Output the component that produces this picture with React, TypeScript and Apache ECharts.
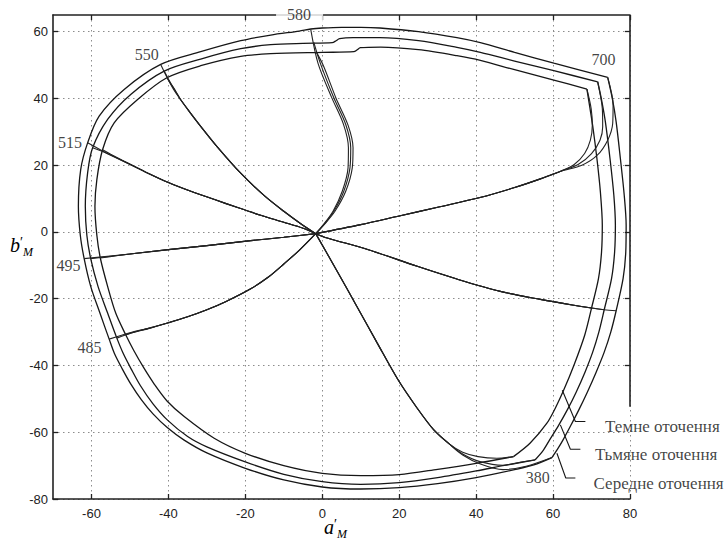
import React, { useEffect, useRef } from 'react';
import * as echarts from 'echarts';

// ---------- axis ticks ----------
const xTicks = [-60, -40, -20, 0, 20, 40, 60, 80];
const yTicks = [-80, -60, -40, -20, 0, 20, 40, 60];
const rightTicks = [-40, -20, 0, 20, 40, 60];

// ---------- spectral locus (380 -> short wl -> 700) per surround ----------
const locusAverage = [
  [59.7, -67.6], [55, -69.8], [50, -71.2], [40, -73.6], [30, -75.4], [20, -76.6], [10, -77], [0, -76.4],
  [-10, -74.3], [-20, -70.8], [-30, -66.2], [-36, -62.3], [-40.3, -58.6], [-44, -54.5], [-47, -50.3],
  [-49.8, -45.5], [-52, -41], [-54, -36.5], [-55.4, -32.1], [-57.8, -24.3], [-60.2, -16.3], [-61.9, -8],
  [-62.9, -1], [-63.4, 7.7], [-62.8, 18.7], [-61, 26.7], [-58, 34.7], [-51.5, 42.7], [-42, 50.2],
  [-31.6, 54], [-21.2, 57.3], [-13.4, 59], [-6, 60.2], [-3, 60.8], [0, 61.1], [5, 61.3], [10, 61.3],
  [15, 61.1], [25, 60], [35, 58.2], [41.1, 56.7], [50, 53.8], [60.2, 50.6], [74.2, 46.3],
];
const locusDim = [
  [55.3, -68.3], [48, -69.8], [40, -71.6], [30, -73.6], [20, -75.1], [10, -75.6], [0, -74.8], [-10, -72.6],
  [-20, -68.9], [-30, -64.4], [-35, -61.3], [-40.3, -56.3], [-44, -51.5], [-47.3, -46], [-49.7, -41],
  [-51.7, -36.5], [-53.4, -31.8], [-55.8, -24.3], [-58.3, -16.3], [-60.2, -8], [-61.2, -1], [-61.6, 7.7],
  [-61, 17.7], [-59.7, 25.2], [-55.8, 33.7], [-49.8, 41.2], [-41.1, 48.2], [-31.6, 51.8], [-21.2, 54.9],
  [-13.4, 56.1], [-5, 56.5], [2.6, 56.7], [3.6, 57.3], [4.5, 57.9], [8, 58.2], [15, 58.2], [25, 57.3],
  [35, 55.3], [41.1, 53.8], [50, 51.2], [60.2, 48.3], [71.6, 45],
];
const locusDark = [
  [49.7, -67.3], [40, -69.3], [30, -71.1], [20, -72.7], [10, -73], [0, -72.3], [-10, -70], [-20, -66.3],
  [-28.1, -61.8], [-35.9, -55.3], [-40.3, -50.7], [-43.6, -45.7], [-46.5, -40.5], [-49, -35.5],
  [-51.1, -30.8], [-53.7, -24.3], [-55.8, -16.3], [-57.7, -7.8], [-58.6, -1], [-59.1, 7.7], [-58.6, 15.7],
  [-57.1, 24.7], [-54.1, 32.7], [-48, 39.7], [-40.4, 46.2], [-31.6, 49.8], [-21.2, 52.6], [-13.4, 53.4],
  [0, 53.8], [8.2, 54], [9.1, 54.6], [9.9, 55.2], [15.2, 55.4], [25, 54.6], [35, 52.8], [41.1, 51.4],
  [50, 48.6], [60.2, 45.5], [68.8, 42.8],
];

// ---------- purple line (700 -> 380) per surround ----------
const purpleAverage = [
  [74.2, 46.3], [75.4, 40], [76.4, 33], [77.5, 22], [78.5, 11], [79, 2], [78.9, -6], [78.2, -14],
  [76.4, -23.6], [75, -30], [73.3, -36], [71.2, -42], [68.9, -48], [66.7, -53.3], [64.6, -58],
  [62.6, -62.3], [61.2, -65], [59.7, -67.6],
];
const purpleDim = [
  [71.6, 45], [72.7, 39], [73.6, 33], [74.8, 22], [75.8, 11], [76.2, 2], [76, -6], [75.2, -14],
  [73.3, -23.3], [71.9, -30], [70.3, -36], [68.3, -42], [66, -48], [63.7, -53.3], [61.4, -58],
  [59.1, -62.3], [57.4, -65.5], [55.3, -68.3],
];
const purpleDark = [
  [68.8, 42.8], [69.6, 37], [70.4, 31], [71.4, 22], [72.3, 12], [72.8, 2], [72.6, -6], [71.8, -14],
  [70, -22.8], [68.2, -31], [65.4, -40], [62.8, -47.3], [60.7, -52.5], [58.4, -57.3], [54, -63.3], [49.7, -67.3],
];

// ---------- constant-hue lines (centre -> locus) per surround ----------
const hue700Dark = [[-1.7, -0.5], [10, 2.2], [20, 4.8], [30, 7.4], [41, 10.3], [50, 13.3], [56.7, 15.9], [62, 18.2], [65.5, 20.2], [68.2, 23.5], [69.7, 27.5], [70.2, 32], [69.9, 37], [68.8, 42.8]];
const hue700Dim = [[-1.7, -0.5], [10, 2.2], [20, 4.8], [30, 7.4], [41, 10.3], [50, 13.3], [56.7, 15.9], [62, 18.2], [66.5, 20.2], [70, 23.5], [72.2, 27.5], [72.9, 31.5], [72.8, 37], [71.6, 45]];
const hue700Avg = [[-1.7, -0.5], [10, 2.2], [20, 4.8], [30, 7.4], [41, 10.3], [50, 13.3], [56.7, 15.9], [62, 18.2], [67.5, 20], [71.5, 23], [74.2, 27.5], [75.5, 32.5], [75.6, 38], [74.2, 46.3]];

const huePurpleDark = [[-1.7, -0.5], [1.3, -1.8], [12, -5.3], [24.7, -10.3], [35, -14.1], [46.3, -17.8], [56.7, -20.2], [65, -21.9], [70, -22.8]];
const huePurpleDim = [[-1.7, -0.5], [1.3, -1.8], [12, -5.3], [24.7, -10.3], [35, -14.1], [46.3, -17.8], [56.7, -20.2], [65, -21.9], [70, -22.8], [73.3, -23.3]];
const huePurpleAvg = [[-1.7, -0.5], [1.3, -1.8], [12, -5.3], [24.7, -10.3], [35, -14.1], [46.3, -17.8], [56.7, -20.2], [65, -21.9], [70, -22.8], [73.3, -23.3], [76.4, -23.6]];

const hue380Dark = [[-1.7, -0.5], [3.5, -11], [9, -22.3], [14.3, -33.3], [19.7, -44.3], [24.5, -52.5], [29, -59.3], [33, -63.5], [36.5, -66], [40.5, -67.3], [45.4, -67.8], [49.7, -67.3]];
const hue380Dim = [[-1.7, -0.5], [3.5, -11], [9, -22.3], [14.3, -33.3], [19.7, -44.3], [24.5, -52.5], [29, -59.3], [33, -63.5], [36.5, -66.5], [41, -68.8], [47, -69.9], [51.5, -69], [55.3, -68.3]];
const hue380Avg = [[-1.7, -0.5], [3.5, -11], [9, -22.3], [14.3, -33.3], [19.7, -44.3], [24.5, -52.5], [29, -59.3], [33, -63.5], [36.5, -66.8], [41.1, -69.5], [47, -71.2], [53, -70.2], [59.7, -67.6]];

const hue550Dark = [[-40.4, 46.2], [-39.5, 44.6], [-38.2, 42.4], [-36.8, 39.6], [-34.5, 36], [-31.5, 31.5], [-27.3, 25.5], [-21.2, 17.6], [-15, 10.8], [-10, 6.2], [-5.5, 2.4], [-1.7, -0.5]];
const hue550Dim = [[-41.1, 48.2], [-39.9, 45.6], [-38.4, 42.6], [-36.8, 39.6], [-34.5, 36], [-31.5, 31.5], [-27.3, 25.5], [-21.2, 17.6], [-15, 10.8], [-10, 6.2], [-5.5, 2.4], [-1.7, -0.5]];
const hue550Avg = [[-42, 50.2], [-40.3, 46.2], [-38.6, 42.6], [-36.8, 39.6], [-34.5, 36], [-31.5, 31.5], [-27.3, 25.5], [-21.2, 17.6], [-15, 10.8], [-10, 6.2], [-5.5, 2.4], [-1.7, -0.5]];

const hue515Dark = [[-57.1, 24.6], [-55, 23.3], [-52, 21.5], [-46, 18], [-40, 14.8], [-34, 12.1], [-28, 9.7], [-22, 7.3], [-16, 5], [-10, 2.9], [-5, 1.1], [-1.7, -0.5]];
const hue515Dim = [[-59.7, 25.2], [-56.5, 23.8], [-52, 21.4], [-46, 18], [-40, 14.8], [-34, 12.1], [-28, 9.7], [-22, 7.3], [-16, 5], [-10, 2.9], [-5, 1.1], [-1.7, -0.5]];
const hue515Avg = [[-61, 26.7], [-57, 24.2], [-52, 21.3], [-46, 18], [-40, 14.8], [-34, 12.1], [-28, 9.7], [-22, 7.3], [-16, 5], [-10, 2.9], [-5, 1.1], [-1.7, -0.5]];

const hue495Dark = [[-57.7, -7.8], [-50, -6.6], [-40, -5.3], [-30, -4.1], [-18.6, -2.6], [-10, -1.6], [-1.7, -0.5]];
const hue495Dim = [[-60.2, -8], [-50, -6.6], [-40, -5.3], [-30, -4.1], [-18.6, -2.6], [-10, -1.6], [-1.7, -0.5]];
const hue495Avg = [[-61.9, -8], [-50, -6.6], [-40, -5.3], [-30, -4.1], [-18.6, -2.6], [-10, -1.6], [-1.7, -0.5]];

const hue485Dark = [[-51.1, -30.8], [-49, -30], [-45, -28.8], [-40, -27.2], [-35, -25.4], [-30, -23.3], [-25, -20.8], [-18.6, -17], [-14, -13.5], [-10, -9.6], [-6, -5.5], [-1.7, -0.5]];
const hue485Dim = [[-53.4, -31.8], [-50, -30.4], [-45, -28.9], [-40, -27.2], [-35, -25.4], [-30, -23.3], [-25, -20.8], [-18.6, -17], [-14, -13.5], [-10, -9.6], [-6, -5.5], [-1.7, -0.5]];
const hue485Avg = [[-55.4, -32.1], [-50, -30.2], [-45, -28.8], [-40, -27.2], [-35, -25.4], [-30, -23.3], [-25, -20.8], [-18.6, -17], [-14, -13.5], [-10, -9.6], [-6, -5.5], [-1.7, -0.5]];

const hue580Dark = [[-1.5, 53.8], [0.3, 49.8], [3.6, 40], [6.7, 32], [8, 25.2], [7.8, 19.2], [6.1, 12.2], [3.3, 6.2], [0.5, 2.2], [-1.7, -0.5]];
const hue580Dim = [[-2.2, 56.8], [-0.4, 50.2], [3, 40.2], [6.1, 32.2], [7.4, 25.2], [7.2, 19.2], [5.6, 12.2], [3, 6.2], [0.4, 2.2], [-1.7, -0.5]];
const hue580Avg = [[-3, 60.7], [-1.1, 50.5], [2.4, 40.4], [5.5, 32.3], [6.8, 25.2], [6.7, 19.2], [5.2, 12.2], [2.8, 6.2], [0.3, 2.2], [-1.7, -0.5]];

// ---------- annotations ----------
const wavelengthNames = ['380', '485', '495', '515', '550', '580', '700'];
const wavelengthAnchors = [[56, -73.7], [-60.5, -34.7], [-66, -10], [-65.6, 26.9], [-45.6, 53.3], [-5.9, 65.2], [73.1, 51.8]];

const surroundNames = ['Темне оточення', 'Тьмяне оточення', 'Середне оточення'];
const surroundAnchors = [[73.4, -58.4], [70.8, -66.6], [70.4, -75.3]];
const leaderDark = [[62.4, -47.4], [65.8, -56.8], [68.4, -56.8]];
const leaderDim = [[61.9, -57.8], [64.5, -65.1], [67.1, -65.1]];
const leaderAvg = [[61, -66.3], [63.3, -73.7], [65.8, -73.7]];

const rightBorder = [[80, 65], [80, -52.4]];

const INK = '#161616';
const SERIF = '"Liberation Serif", "Times New Roman", serif';
const SANS = '"Liberation Sans", Arial, sans-serif';

function line(data: number[][], width = 1.3, smooth: number | boolean = 0.3, color = INK) {
  return {
    type: 'line',
    data,
    symbol: 'none',
    showSymbol: false,
    smooth,
    clip: false,
    silent: true,
    z: 3,
    lineStyle: { color, width },
  };
}

const axisTitleRich = {
  v: { fontFamily: SERIF, fontStyle: 'italic', fontSize: 20, lineHeight: 20, verticalAlign: 'top', color: '#111' },
  p: { fontFamily: SERIF, fontSize: 14, lineHeight: 20, verticalAlign: 'top', color: '#111' },
  m: { fontFamily: SERIF, fontStyle: 'italic', fontSize: 12, lineHeight: 10, padding: [11, 0, 0, 0], verticalAlign: 'top', color: '#111' },
};

export default function App() {
  const ref = useRef<HTMLDivElement>(null);
  useEffect(() => {
    if (!ref.current) return;
    const chart = echarts.init(ref.current, undefined, { renderer: 'svg' });
    const hueColor = '#222';
    const series: any[] = [
      line(locusAverage), line(locusDim), line(locusDark),
      line(purpleAverage), line(purpleDim), line(purpleDark),
      ...[hue700Dark, hue700Dim, hue700Avg, huePurpleDark, huePurpleDim, huePurpleAvg,
        hue380Dark, hue380Dim, hue380Avg, hue550Dark, hue550Dim, hue550Avg,
        hue515Dark, hue515Dim, hue515Avg, hue495Dark, hue495Dim, hue495Avg,
        hue485Dark, hue485Dim, hue485Avg, hue580Dark, hue580Dim, hue580Avg].map((d) => line(d, 1.1, 0.3, hueColor)),
      line(leaderDark, 1.1, false), line(leaderDim, 1.1, false), line(leaderAvg, 1.1, false),
      { ...line(rightBorder, 1.6, false, '#222'), z: 1 },
      {
        type: 'scatter',
        clip: false,
        silent: true,
        symbolSize: 1,
        itemStyle: { color: 'rgba(0,0,0,0)' },
        z: 5,
        data: wavelengthNames.map((n, i) => ({
          name: n,
          value: wavelengthAnchors[i],
          label: n === '580' ? { backgroundColor: '#ffffff', padding: [2, 12, 2, 11] } : undefined,
        })),
        label: {
          show: true,
          position: 'inside',
          formatter: (p: any) => p.name,
          fontFamily: SERIF,
          fontSize: 16,
          color: '#111',
        },
      },
      {
        type: 'scatter',
        clip: false,
        silent: true,
        symbolSize: 1,
        itemStyle: { color: 'rgba(0,0,0,0)' },
        z: 5,
        data: surroundNames.map((n, i) => ({ name: n, value: surroundAnchors[i] })),
        label: {
          show: true,
          position: 'right',
          distance: 0,
          formatter: (p: any) => p.name,
          fontFamily: SERIF,
          fontSize: 17,
          color: '#111',
        },
      },
    ];

    const axisLine = { show: true, onZero: false, lineStyle: { color: '#222', width: 1.6 } };
    const tick = (vals: number[]) => ({ show: true, inside: true, length: 5, customValues: vals, lineStyle: { color: '#222', width: 1.3 } });
    const grid = { show: true, lineStyle: { color: '#8c8c8c', width: 1, type: [1.5, 3.5] } };

    chart.setOption({
      animation: false,
      backgroundColor: '#ffffff',
      grid: { left: 53, right: 97, top: 15, bottom: 41 },
      xAxis: [
        {
          type: 'value', min: -70, max: 80, position: 'bottom',
          axisLine, axisTick: tick(xTicks), splitLine: grid,
          axisLabel: { customValues: xTicks, margin: 8, fontFamily: SANS, fontSize: 13, color: '#222' },
        },
        {
          type: 'value', min: -70, max: 80, position: 'top',
          axisLine, axisTick: tick(xTicks), splitLine: { show: false }, axisLabel: { show: false },
        },
      ],
      yAxis: [
        {
          type: 'value', min: -80, max: 65, position: 'left',
          axisLine, axisTick: tick(yTicks), splitLine: grid,
          axisLabel: { customValues: yTicks, margin: 5, fontFamily: SANS, fontSize: 13, color: '#222' },
        },
        {
          type: 'value', min: -80, max: 65, position: 'right',
          axisLine: { show: false, onZero: false }, axisTick: tick(rightTicks), splitLine: { show: false }, axisLabel: { show: false },
        },
      ],
      graphic: [
        { type: 'text', left: 10, top: 235, style: { text: '{v|b}{p|′}{m|M}', rich: axisTitleRich } },
        { type: 'text', left: 324, top: 517, style: { text: '{v|a}{p|′}{m|M}', rich: axisTitleRich } },
      ],
      series,
    });
    return () => chart.dispose();
  }, []);
  return (
    <div
      ref={ref}
      style={{ position: 'fixed', left: 0, top: 0, width: 727, height: 540, background: '#fff' }}
    />
  );
}
